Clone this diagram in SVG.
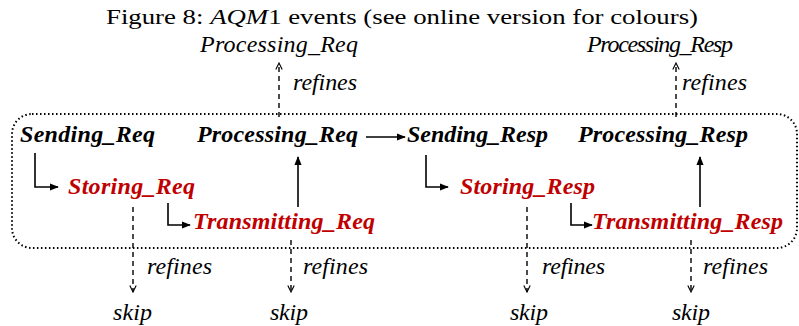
<svg xmlns="http://www.w3.org/2000/svg" width="799" height="326" viewBox="0 0 799 326">
<defs>
<marker id="open" viewBox="0 0 10 10" refX="9" refY="5" markerWidth="8" markerHeight="8" markerUnits="userSpaceOnUse" orient="auto"><path d="M1,1 L9,5 L1,9" fill="none" stroke="#000" stroke-width="1.4"/></marker>
<marker id="solid" viewBox="0 0 10 10" refX="9" refY="5" markerWidth="9" markerHeight="9" markerUnits="userSpaceOnUse" orient="auto"><path d="M0,1 L10,5 L0,9 Z" fill="#000"/></marker>
</defs>
<style>
.title{font-family:"Liberation Serif","DejaVu Serif",serif;font-size:21px;fill:#000}
.lbl{font-family:"Liberation Serif","DejaVu Serif",serif;font-style:italic;font-size:24px;fill:#000}
.ev{font-family:"Liberation Serif","DejaVu Serif",serif;font-style:italic;font-weight:bold;font-size:24px;fill:#000}
.red{fill:#c00000}
.dash{stroke:#000;stroke-width:1.4;stroke-dasharray:5,4;fill:none}
.sol{stroke:#000;stroke-width:1.6;fill:none}
.box{stroke:#000;stroke-width:2;stroke-dasharray:1.5,2.5;fill:none}
</style>
<text class="title" x="106" y="24" textLength="592" lengthAdjust="spacingAndGlyphs">Figure 8: <tspan font-style="italic">AQM</tspan>1 events (see online version for colours)</text>
<rect class="box" x="12" y="114" width="785" height="134" rx="20" ry="20"/>
<g id="top-processing-req"><text class="lbl" x="200" y="52" textLength="158">Processing_Req</text></g>
<g id="top-processing-resp"><text class="lbl" x="587" y="52" font-size="21.5" textLength="146">Processing_Resp</text></g>
<g id="sending-req"><text class="ev" x="20" y="142" textLength="135">Sending_Req</text></g>
<g id="processing-req"><text class="ev" x="197" y="142" textLength="161">Processing_Req</text></g>
<g id="sending-resp"><text class="ev" x="407" y="142" textLength="141">Sending_Resp</text></g>
<g id="processing-resp"><text class="ev" x="578" y="142" textLength="170">Processing_Resp</text></g>
<g id="storing-req"><text class="ev red" x="68" y="194" textLength="127">Storing_Req</text></g>
<g id="transmitting-req"><text class="ev red" x="193" y="229" textLength="182">Transmitting_Req</text></g>
<g id="storing-resp"><text class="ev red" x="460" y="194" textLength="135">Storing_Resp</text></g>
<g id="transmitting-resp"><text class="ev red" x="592" y="229" textLength="191">Transmitting_Resp</text></g>
<g id="skip1"><text class="lbl" x="113" y="320" textLength="39">skip</text></g>
<g id="skip2"><text class="lbl" x="270" y="320" textLength="38">skip</text></g>
<g id="skip3"><text class="lbl" x="510" y="320" textLength="38">skip</text></g>
<g id="skip4"><text class="lbl" x="672" y="320" textLength="38">skip</text></g>
<g id="connectors">
<path class="dash" d="M279,117 L279,63" marker-end="url(#open)"/>
<text class="lbl" x="293" y="90" textLength="64">refines</text>
<path class="dash" d="M676,117 L676,63" marker-end="url(#open)"/>
<text class="lbl" x="682" y="90" textLength="65">refines</text>
<path class="sol" d="M366,137 L405,137" marker-end="url(#solid)"/>
<path class="sol" d="M35,153 L35,187 L58,187" marker-end="url(#solid)"/>
<path class="sol" d="M168,203 L168,225 L190,225" marker-end="url(#solid)"/>
<path class="sol" d="M298,207 L298,157" marker-end="url(#solid)"/>
<path class="sol" d="M426,155 L426,187 L448,187" marker-end="url(#solid)"/>
<path class="sol" d="M571,203 L571,225 L592,225" marker-end="url(#solid)"/>
<path class="sol" d="M700,207 L700,157" marker-end="url(#solid)"/>
<path class="dash" d="M133,207 L133,292" marker-end="url(#open)"/>
<text class="lbl" x="147" y="274" textLength="65">refines</text>
<path class="dash" d="M291,240 L291,292" marker-end="url(#open)"/>
<text class="lbl" x="303" y="274" textLength="65">refines</text>
<path class="dash" d="M527,207 L527,292" marker-end="url(#open)"/>
<text class="lbl" x="542" y="274" textLength="63">refines</text>
<path class="dash" d="M691,240 L691,292" marker-end="url(#open)"/>
<text class="lbl" x="703" y="274" textLength="65">refines</text>
</g>
</svg>
